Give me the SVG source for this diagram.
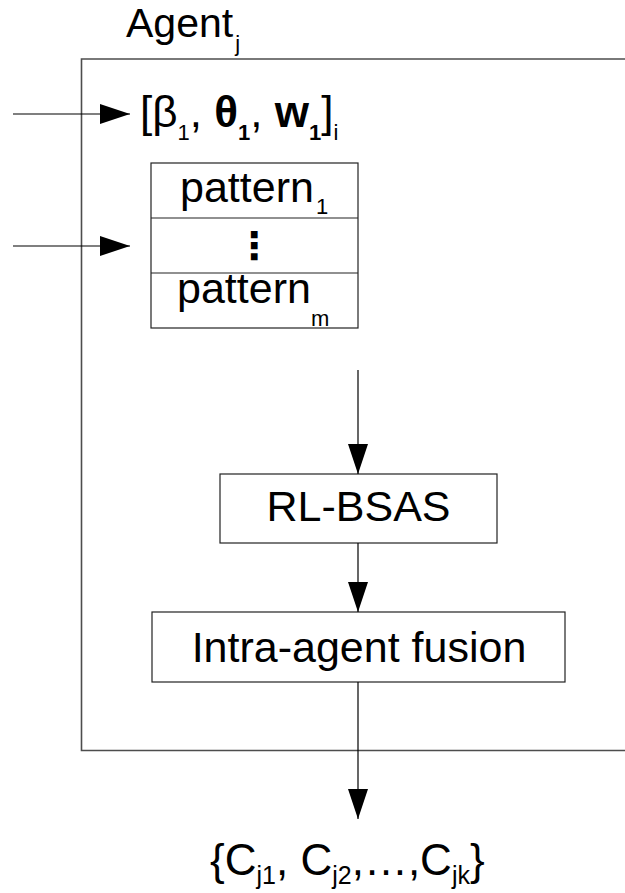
<svg xmlns="http://www.w3.org/2000/svg" width="625" height="893" viewBox="0 0 625 893">
<defs>
<style>
text{font-family:"Liberation Sans",Arial,sans-serif;fill:#000}
.box{fill:#fff;stroke:#222;stroke-width:1.2}
.frame{fill:none;stroke:#4d4d4d;stroke-width:1.6}
.conn{stroke:#000;stroke-width:1.2;fill:none}
.big{font-size:43px}
.sub{font-size:22px}
.psub{font-size:22px}
</style>
<marker id="ah" viewBox="0 0 30 20" refX="30" refY="10" markerWidth="30" markerHeight="20" markerUnits="userSpaceOnUse" orient="auto">
<path d="M0,0 L30,10 L0,20 Z" fill="#000"/>
</marker>
</defs>
<rect width="625" height="893" fill="#fff"/>
<g id="agent-frame">
<path class="frame" d="M630,59 H81.5 V750.5 H630"/>
<text x="126" y="37" style="font-size:41px">Agent<tspan class="sub" dx="2" dy="14">j</tspan></text>
</g>
<g id="params">
<text x="140" y="127" style="font-size:44px">[β<tspan class="sub" dy="13">1</tspan><tspan dy="-13">, </tspan><tspan font-weight="bold">θ</tspan><tspan class="sub" font-weight="bold" dy="13">1</tspan><tspan dy="-13">, </tspan><tspan font-weight="bold">w</tspan><tspan class="sub" font-weight="bold" dy="13">1</tspan><tspan dy="-13">]</tspan><tspan class="sub" dy="13">i</tspan></text>
</g>
<g id="patterns">
<rect class="box" x="151" y="163" width="207" height="165"/>
<line class="box" x1="151" y1="218" x2="358" y2="218"/>
<line class="box" x1="151" y1="273" x2="358" y2="273"/>
<text x="180" y="202" class="big">pattern<tspan class="psub" dx="2" dy="12">1</tspan></text>
<text x="254" y="259" text-anchor="middle" style="font-family:'DejaVu Sans',sans-serif;font-size:38px;font-weight:bold">⋮</text>
<text x="177" y="303" class="big">pattern<tspan class="psub" dx="0" dy="23">m</tspan></text>
</g>
<g id="rl-bsas">
<rect class="box" x="220" y="474" width="277" height="69"/>
<text x="358.5" y="521" text-anchor="middle" class="big">RL-BSAS</text>
</g>
<g id="fusion">
<rect class="box" x="152" y="612" width="413" height="70"/>
<text x="359" y="662" text-anchor="middle" class="big">Intra-agent fusion</text>
</g>
<g id="output">
<text x="210" y="875" style="font-size:44px">{C<tspan style="font-size:25px" dy="9">j1</tspan><tspan dy="-9">, C</tspan><tspan style="font-size:25px" dy="9">j2</tspan><tspan dy="-9">,…,C</tspan><tspan style="font-size:25px" dy="9">jk</tspan><tspan dy="-9">}</tspan></text>
</g>
<g id="connectors">
<line class="conn" x1="13" y1="114" x2="130" y2="114" marker-end="url(#ah)"/>
<line class="conn" x1="13" y1="246" x2="130" y2="246" marker-end="url(#ah)"/>
<line class="conn" x1="358" y1="370" x2="358" y2="474" marker-end="url(#ah)"/>
<line class="conn" x1="358" y1="543" x2="358" y2="612" marker-end="url(#ah)"/>
<line class="conn" x1="358" y1="682" x2="358" y2="819" marker-end="url(#ah)"/>
</g>
</svg>
